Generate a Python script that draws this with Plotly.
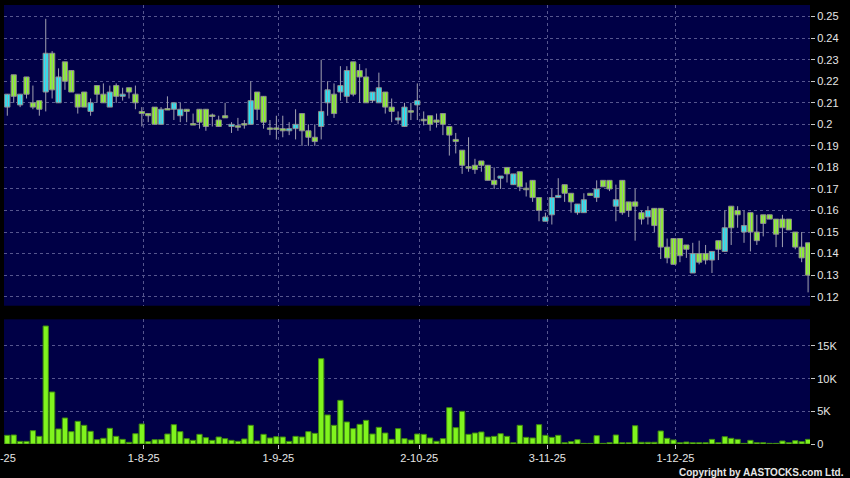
import plotly.graph_objects as go

# ---------------- data ----------------
opens = [0.208, 0.223, 0.209, 0.222, 0.210, 0.211, 0.215, 0.233, 0.210, 0.229,
         0.225, 0.214, 0.215, 0.206, 0.218, 0.214, 0.208, 0.218, 0.213, 0.217,
         0.214, 0.206, 0.205, 0.208, 0.200, 0.207, 0.207, 0.204, 0.207, 0.200,
         0.207, 0.207, 0.204, 0.202, 0.204, 0.199, 0.199, 0.200, 0.200, 0.215,
         0.213, 0.198, 0.198, 0.198, 0.197, 0.198, 0.205, 0.197, 0.194, 0.199,
         0.210, 0.214, 0.215, 0.213, 0.229, 0.225, 0.222, 0.211, 0.210, 0.215,
         0.208, 0.202, 0.199, 0.206, 0.209, 0.202, 0.204, 0.202, 0.205, 0.199,
         0.193, 0.188, 0.180, 0.181, 0.183, 0.181, 0.174, 0.175, 0.180, 0.172,
         0.178, 0.170, 0.174, 0.166, 0.155, 0.158, 0.166, 0.172, 0.168, 0.159,
         0.159, 0.168, 0.166, 0.174, 0.174, 0.162, 0.174, 0.164, 0.164, 0.159,
         0.157, 0.161, 0.161, 0.143, 0.147, 0.147, 0.144, 0.131, 0.140, 0.140,
         0.137, 0.146, 0.141, 0.162, 0.160, 0.150, 0.159, 0.150, 0.158, 0.158,
         0.156, 0.156, 0.156, 0.150, 0.143, 0.145]
highs = [0.214, 0.223, 0.214, 0.222, 0.218, 0.211, 0.249, 0.234, 0.226, 0.229,
         0.225, 0.214, 0.215, 0.212, 0.218, 0.219, 0.218, 0.219, 0.217, 0.217,
         0.218, 0.208, 0.205, 0.208, 0.208, 0.213, 0.210, 0.210, 0.207, 0.205,
         0.207, 0.207, 0.205, 0.204, 0.210, 0.201, 0.203, 0.202, 0.220, 0.215,
         0.213, 0.202, 0.204, 0.204, 0.201, 0.207, 0.205, 0.200, 0.200, 0.230,
         0.220, 0.219, 0.227, 0.227, 0.229, 0.228, 0.226, 0.215, 0.224, 0.215,
         0.212, 0.206, 0.210, 0.210, 0.219, 0.206, 0.204, 0.205, 0.205, 0.199,
         0.196, 0.188, 0.194, 0.184, 0.183, 0.181, 0.180, 0.176, 0.180, 0.177,
         0.178, 0.173, 0.174, 0.166, 0.159, 0.170, 0.175, 0.172, 0.168, 0.163,
         0.168, 0.168, 0.174, 0.174, 0.174, 0.172, 0.174, 0.164, 0.170, 0.160,
         0.162, 0.161, 0.161, 0.147, 0.147, 0.147, 0.144, 0.145, 0.146, 0.144,
         0.141, 0.146, 0.160, 0.162, 0.162, 0.160, 0.159, 0.158, 0.158, 0.158,
         0.156, 0.158, 0.156, 0.150, 0.150, 0.145]
lows = [0.204, 0.210, 0.208, 0.212, 0.207, 0.204, 0.206, 0.212, 0.210, 0.216,
        0.215, 0.205, 0.208, 0.204, 0.210, 0.210, 0.208, 0.210, 0.211, 0.212,
        0.207, 0.199, 0.201, 0.200, 0.200, 0.207, 0.202, 0.201, 0.201, 0.200,
        0.198, 0.197, 0.199, 0.199, 0.203, 0.196, 0.197, 0.198, 0.200, 0.202,
        0.198, 0.195, 0.193, 0.194, 0.195, 0.193, 0.190, 0.190, 0.190, 0.193,
        0.204, 0.203, 0.211, 0.210, 0.213, 0.210, 0.210, 0.210, 0.210, 0.205,
        0.201, 0.200, 0.199, 0.202, 0.202, 0.1995, 0.197, 0.1985, 0.195, 0.1855,
        0.1865, 0.177, 0.178, 0.177, 0.178, 0.174, 0.170, 0.170, 0.173, 0.172,
        0.169, 0.1665, 0.164, 0.155, 0.155, 0.1535, 0.166, 0.164, 0.159, 0.158,
        0.159, 0.167, 0.164, 0.171, 0.169, 0.155, 0.158, 0.157, 0.146, 0.1535,
        0.1535, 0.150, 0.1375, 0.1355, 0.135, 0.136, 0.138, 0.131, 0.135, 0.135,
        0.131, 0.137, 0.141, 0.144, 0.152, 0.145, 0.141, 0.144, 0.148, 0.156,
        0.143, 0.143, 0.151, 0.142, 0.136, 0.122]
closes = [0.214, 0.213, 0.214, 0.214, 0.208, 0.207, 0.233, 0.216, 0.222, 0.220,
          0.215, 0.208, 0.208, 0.210, 0.214, 0.210, 0.215, 0.213, 0.214, 0.215,
          0.210, 0.205, 0.204, 0.200, 0.207, 0.207, 0.210, 0.207, 0.206, 0.200,
          0.201, 0.199, 0.204, 0.199, 0.203, 0.200, 0.199, 0.200, 0.211, 0.207,
          0.201, 0.198, 0.198, 0.197, 0.198, 0.200, 0.197, 0.194, 0.192, 0.206,
          0.216, 0.205, 0.218, 0.225, 0.214, 0.222, 0.210, 0.215, 0.217, 0.208,
          0.206, 0.203, 0.208, 0.206, 0.211, 0.202, 0.200, 0.201, 0.200, 0.195,
          0.192, 0.181, 0.180, 0.179, 0.181, 0.174, 0.172, 0.176, 0.177, 0.177,
          0.171, 0.170, 0.166, 0.160, 0.157, 0.166, 0.167, 0.168, 0.164, 0.163,
          0.165, 0.167, 0.170, 0.171, 0.170, 0.165, 0.159, 0.160, 0.162, 0.156,
          0.160, 0.153, 0.143, 0.138, 0.135, 0.139, 0.142, 0.140, 0.136, 0.137,
          0.141, 0.142, 0.152, 0.152, 0.158, 0.153, 0.150, 0.146, 0.154, 0.156,
          0.149, 0.152, 0.151, 0.143, 0.138, 0.130]
volumes = [1330, 1380, 400, 400, 2040, 1170, 18060, 7960, 2300, 3980,
           1890, 3470, 2860, 1940, 660, 870, 2400, 1170, 710, 260,
           1580, 3060, 360, 660, 660, 1530, 2960, 1890, 820, 560,
           1480, 970, 560, 1070, 820, 560, 410, 770, 2860, 460,
           1480, 920, 1120, 1070, 400, 1170, 1070, 1890, 1630, 13060,
           4440, 2860, 6680, 3370, 2350, 3010, 3620, 1530, 2550, 1680,
           710, 2350, 820, 610, 1530, 1480, 920, 410, 820, 5560,
           2500, 5000, 1480, 1680, 1840, 1070, 1170, 1580, 1170, 200,
           2860, 1020, 920, 2960, 1330, 1020, 1330, 200, 360, 660,
           100, 100, 1280, 100, 200, 1380, 200, 200, 2800, 260,
           260, 260, 1990, 870, 610, 200, 300, 200, 200, 200,
           710, 200, 1120, 870, 710, 100, 560, 200, 200, 100,
           100, 460, 200, 510, 360, 710]

tick_index = [21, 42, 64, 84, 104]            # trading-day index of each date label
tick_labels = ["1-8-25", "1-9-25", "2-10-25", "3-11-25", "1-12-25"]
first_label = "2-7-25"
price_ticks = [0.12, 0.13, 0.14, 0.15, 0.16, 0.17, 0.18, 0.19, 0.20,
               0.21, 0.22, 0.23, 0.24, 0.25]
vol_tickvals = [0, 5000, 10000, 15000]
vol_ticktext = ["0", "5K", "10K", "15K"]

# ---------------- styling ----------------
UP = "#24e6f6"
DOWN = "#8cf52a"
BG = "#000046"
GRID = "#56568e"
TXT = "#e6e6e6"
FONT = "Liberation Sans, Arial, sans-serif"

n = len(closes)
xs = list(range(n))
colors = [UP if c > o else DOWN for o, c in zip(opens, closes)]

min_h = 0.0007
base, height = [], []
for o, c in zip(opens, closes):
    lo, hi = min(o, c), max(o, c)
    if hi - lo < min_h:
        mid = (lo + hi) / 2
        lo, hi = mid - min_h / 2, mid + min_h / 2
    base.append(lo)
    height.append(hi - lo)

wx, wy = [], []
for i, (h, l) in enumerate(zip(highs, lows)):
    wx += [i, i, None]
    wy += [l, h, None]

tickpos = [t + 0.3 for t in tick_index]

fig = go.Figure()
fig.add_trace(go.Scatter(x=wx, y=wy, mode="lines",
                         line=dict(color="#a0a0b0", width=1),
                         hoverinfo="skip", xaxis="x", yaxis="y"))
fig.add_trace(go.Bar(x=xs, y=height, base=base, width=0.82,
                     marker=dict(color=colors, line=dict(color="#8a8a8a", width=1)),
                     xaxis="x", yaxis="y"))
fig.add_trace(go.Bar(x=xs, y=volumes, width=0.82,
                     marker=dict(color="#80f41e", line=dict(color="#3f8a10", width=1)),
                     xaxis="x2", yaxis="y2"))

grid_common = dict(showgrid=True, gridcolor=GRID, griddash="3px,3px", gridwidth=1,
                   zeroline=False, showline=False)

fig.update_layout(
    width=850, height=478,
    margin=dict(l=4, r=40, t=5, b=34),
    paper_bgcolor="black", plot_bgcolor=BG,
    showlegend=False, barmode="overlay",
    font=dict(family=FONT, size=11, color=TXT),
    xaxis=dict(domain=[0, 1], range=[-0.515, 125.3], anchor="y",
               tickvals=tickpos, showticklabels=False, ticks="", **grid_common),
    xaxis2=dict(domain=[0, 1], matches="x", anchor="y2",
                tickvals=tickpos, ticktext=tick_labels, ticks="outside",
                ticklen=4, tickcolor="#c8c8c8",
                tickfont=dict(family=FONT, size=11, color=TXT), **grid_common),
    yaxis=dict(domain=[0.315, 1], range=[0.1158, 0.2554], side="right", anchor="x",
               tickvals=price_ticks, ticks="outside", ticklen=4, tickcolor="#c8c8c8",
               tickfont=dict(family=FONT, size=11, color=TXT), **grid_common),
    yaxis2=dict(domain=[0, 0.284], range=[0, 19080], side="right", anchor="x2",
                tickvals=vol_tickvals, ticktext=vol_ticktext, ticks="outside",
                ticklen=4, tickcolor="#c8c8c8",
                tickfont=dict(family=FONT, size=11, color=TXT), **grid_common),
)

fig.add_annotation(text=first_label, xref="paper", yref="paper",
                   x=-0.005, y=-0.032, xanchor="center", yanchor="middle",
                   showarrow=False, font=dict(family=FONT, size=11, color=TXT))
fig.add_annotation(text="<b>Copyright by AASTOCKS.com Ltd.</b>", xref="paper", yref="paper",
                   x=1.0447, y=-0.064, xanchor="right", yanchor="middle",
                   showarrow=False, font=dict(family=FONT, size=10, color=TXT))

fig.write_html("out.html", config={"displayModeBar": False},
               post_script="document.body.style.margin='0';document.body.style.background='black';")
